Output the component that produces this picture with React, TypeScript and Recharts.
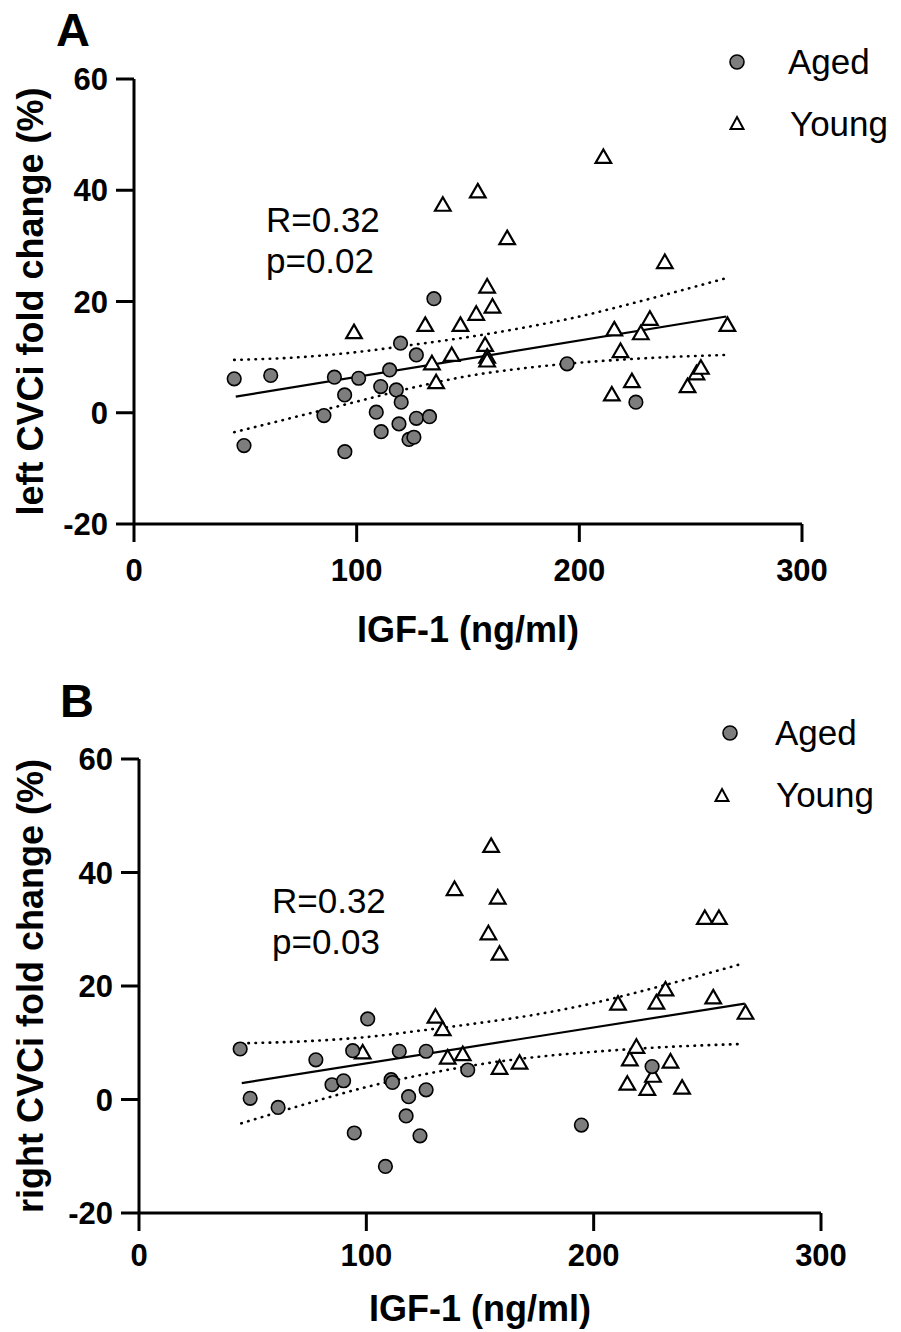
import React from "react";
import { Scatter, ScatterChart, XAxis, YAxis } from "recharts";

const FONT = "Arial, 'Liberation Sans', Helvetica, sans-serif";
const GREY = "#7d7d7d";

const X_TICKS = [0, 100, 200, 300];
const Y_TICKS = [-20, 0, 20, 40, 60];

// panel A: left CVCi
const agedA = [
    [45, 6.1], [49.4, -5.9], [61.4, 6.7], [85.3, -0.5], [90, 6.4], [94.6, 3.2], [94.7, -7],
    [100.9, 6.2], [108.8, 0.1], [110.8, 4.7], [111, -3.4], [114.8, 7.7], [117.8, 4.1],
    [119, -2], [119.7, 12.5], [120, 1.9], [123.5, -4.8], [125.7, -4.4], [126.8, 10.4],
    [126.8, -1], [132.7, -0.7], [134.7, 20.5], [194.5, 8.8], [225.4, 1.9],
];
const youngA = [
    [98.8, 14.4], [130.8, 15.7], [133.8, 8.8], [135.7, 5.4], [138.7, 37.3], [142.7, 10.3],
    [146.6, 15.7], [153.7, 17.7], [154.4, 39.7], [157.7, 12.1], [158.6, 10], [158.6, 9.3],
    [158.6, 22.6], [161, 19], [167.6, 31.3], [210.8, 45.9], [214.6, 3.2], [215.7, 14.9],
    [218.5, 11], [223.6, 5.6], [227.6, 14.2], [231.7, 16.8], [238.4, 27], [248.6, 4.7],
    [252.6, 7], [254.6, 8], [266.5, 15.7],
];
const fitA = [[45.7, 2.9], [266, 17.3]];
const BAND_X = [45, 75, 100, 125, 150, 175, 200, 225, 266];
const upperA = [9.5, 10.0, 10.9, 12.2, 13.6, 15.3, 17.3, 19.8, 24.2];
const lowerA = [-3.5, -0.5, 2.0, 4.5, 6.6, 8.0, 9.0, 9.7, 10.4];

// panel B: right CVCi
const agedB = [
    [44.5, 8.9], [48.9, 0.2], [61.2, -1.4], [77.8, 7.0], [84.9, 2.6], [90, 3.3], [94, 8.6],
    [94.7, -5.9], [100.6, 14.2], [108.4, -11.8], [110.9, 3.5], [111.5, 3.0], [114.5, 8.5],
    [117.5, -2.9], [118.6, 0.5], [123.6, -6.4], [126.3, 8.5], [126.3, 1.7], [144.6, 5.2],
    [194.6, -4.5], [225.7, 5.8],
];
const youngB = [
    [98.4, 8.2], [130.4, 14.5], [133.6, 12.3], [135.8, 7.3], [138.8, 37], [142.4, 7.9],
    [153.7, 29.2], [154.9, 44.6], [157.8, 35.5], [158.6, 25.6], [158.6, 5.5], [167.4, 6.4],
    [210.7, 16.8], [214.8, 2.7], [215.9, 7], [218.8, 9.2], [223.6, 1.8], [226.1, 4.1],
    [227.6, 17], [231.6, 19.3], [233.8, 6.6], [238.9, 2.0], [248.9, 31.9], [252.6, 17.9],
    [255.1, 31.9], [266.8, 15.2],
];
const fitB = [[45.2, 2.9], [266.5, 16.9]];
const upperB = [9.9, 10.3, 11.0, 12.2, 13.5, 15.0, 17.0, 19.5, 24.0];
const lowerB = [-4.2, -0.6, 2.2, 4.4, 6.2, 7.5, 8.4, 9.1, 9.8];

const toPts = (arr: number[][]) => arr.map(([x, y]) => ({ x, y }));
const band = (ys: number[]) => BAND_X.map((x, i) => ({ x, y: ys[i] }));

const Circle = (p: any) => (
    <circle cx={p.cx} cy={p.cy} r={6.8} fill={GREY} stroke="#000" strokeWidth={1.6} />
);
const Triangle = (p: any) => (
    <path
        d={`M${p.cx},${p.cy - 8}L${p.cx + 7.8},${p.cy + 5.5}L${p.cx - 7.8},${p.cy + 5.5}Z`}
        fill="#fff"
        stroke="#000"
        strokeWidth={2.2}
        strokeLinejoin="miter"
    />
);
const NoDot = () => <g />;

const dotted = { stroke: "#000", strokeWidth: 2.6, strokeDasharray: "0.5 6.6", strokeLinecap: "round" };

type PanelProps = {
    top: number;
    letter: string;
    letterPos: [number, number];
    yLabel: string;
    pText: string;
    textPos: [number, number];
    aged: number[][];
    young: number[][];
    fit: number[][];
    upper: number[];
    lower: number[];
    margin: { top: number; right: number; bottom: number; left: number };
    xLabelOffset: number;
    yLabelOffset: number;
    xTickMargin: number;
    legend: { circle: [number, number]; tri: [number, number]; agedX: number; youngX: number; base: number };
};

function Panel(props: PanelProps) {
    const { legend } = props;
    const tickStyle = { fill: "#000", fontSize: 31, fontWeight: 700, fontFamily: FONT };
    const labelStyle = { fill: "#000", fontSize: 36, fontWeight: 700, fontFamily: FONT, textAnchor: "middle" as const };
    return (
        <div style={{ position: "absolute", left: 0, top: props.top, width: 901, height: 666 }}>
            <ScatterChart width={901} height={666} margin={props.margin}>
                <XAxis
                    type="number"
                    dataKey="x"
                    domain={[0, 300]}
                    ticks={X_TICKS}
                    allowDataOverflow
                    height={60}
                    tickSize={18}
                    tickMargin={props.xTickMargin}
                    axisLine={{ stroke: "#000", strokeWidth: 3 }}
                    tickLine={{ stroke: "#000", strokeWidth: 3 }}
                    tick={tickStyle}
                    label={{ value: "IGF-1 (ng/ml)", position: "bottom", offset: props.xLabelOffset, style: labelStyle }}
                />
                <YAxis
                    type="number"
                    dataKey="y"
                    domain={[-20, 60]}
                    ticks={Y_TICKS}
                    allowDataOverflow
                    width={120}
                    tickSize={18}
                    tickMargin={8}
                    axisLine={{ stroke: "#000", strokeWidth: 3 }}
                    tickLine={{ stroke: "#000", strokeWidth: 3 }}
                    tick={tickStyle}
                    label={{ value: props.yLabel, angle: -90, position: "insideLeft", offset: props.yLabelOffset, style: labelStyle }}
                />
                <Scatter data={band(props.upper)} line={dotted} lineJointType="monotoneX" shape={NoDot} isAnimationActive={false} />
                <Scatter data={band(props.lower)} line={dotted} lineJointType="monotoneX" shape={NoDot} isAnimationActive={false} />
                <Scatter data={toPts(props.fit)} line={{ stroke: "#000", strokeWidth: 2.2 }} shape={NoDot} isAnimationActive={false} />
                <Scatter name="Young" data={toPts(props.young)} shape={Triangle} isAnimationActive={false} />
                <Scatter name="Aged" data={toPts(props.aged)} shape={Circle} isAnimationActive={false} />
            </ScatterChart>
            <svg
                width={901}
                height={666}
                style={{ position: "absolute", left: 0, top: 0, pointerEvents: "none" }}
                fontFamily={FONT}
            >
                <text x={props.letterPos[0]} y={props.letterPos[1]} fontSize={47} fontWeight={700}>
                    {props.letter}
                </text>
                <text x={props.textPos[0]} y={props.textPos[1]} fontSize={35}>
                    R=0.32
                </text>
                <text x={props.textPos[0]} y={props.textPos[1] + 41} fontSize={35}>
                    {props.pText}
                </text>
                <circle cx={legend.circle[0]} cy={legend.circle[1]} r={7} fill={GREY} stroke="#000" strokeWidth={1.6} />
                <text x={legend.agedX} y={legend.base} fontSize={35}>
                    Aged
                </text>
                <path
                    d={`M${legend.tri[0]},${legend.tri[1] - 7}L${legend.tri[0] + 6.5},${legend.tri[1] + 5}L${legend.tri[0] - 6.5},${legend.tri[1] + 5}Z`}
                    fill="#fff"
                    stroke="#000"
                    strokeWidth={2}
                />
                <text x={legend.youngX} y={legend.base + 62} fontSize={35}>
                    Young
                </text>
            </svg>
        </div>
    );
}

export default function App() {
    return (
        <div style={{ position: "absolute", left: 0, top: 0, width: 901, height: 1332, background: "#fff" }}>
            <Panel
                top={0}
                letter="A"
                letterPos={[56, 46]}
                yLabel="left CVCi fold change (%)"
                pText="p=0.02"
                textPos={[266, 232]}
                aged={agedA}
                young={youngA}
                fit={fitA}
                upper={upperA}
                lower={lowerA}
                margin={{ top: 79, right: 99, bottom: 82, left: 14 }}
                xLabelOffset={32}
                yLabelOffset={16}
                xTickMargin={17}
                legend={{ circle: [737, 62], tri: [737, 124], agedX: 788, youngX: 790, base: 74 }}
            />
            <Panel
                top={666}
                letter="B"
                letterPos={[60, 51]}
                yLabel="right CVCi fold change (%)"
                pText="p=0.03"
                textPos={[272, 247]}
                aged={agedB}
                young={youngB}
                fit={fitB}
                upper={upperB}
                lower={lowerB}
                margin={{ top: 93, right: 80, bottom: 59, left: 19 }}
                xLabelOffset={22}
                yLabelOffset={11}
                xTickMargin={13}
                legend={{ circle: [730, 67], tri: [722, 130], agedX: 775, youngX: 776, base: 79 }}
            />
        </div>
    );
}
